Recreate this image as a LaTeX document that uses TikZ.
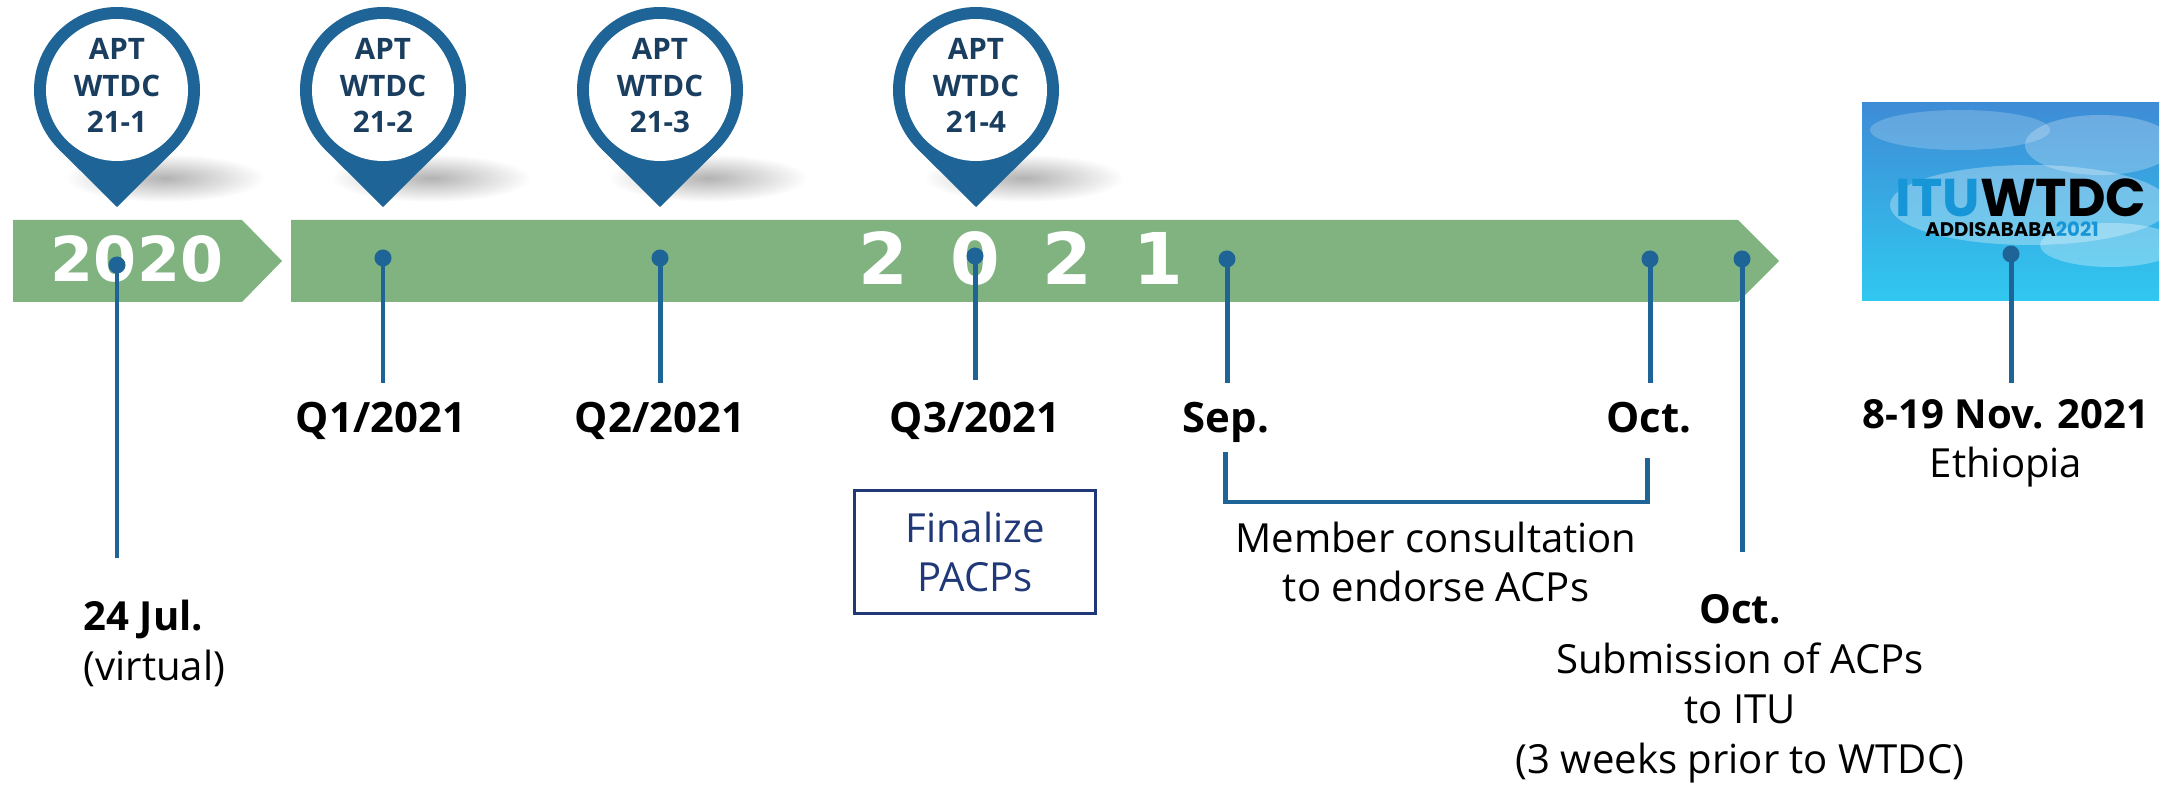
\documentclass[tikz,border=0pt]{standalone}
\usepackage{fontspec}
\setmainfont{Open Sans}
\newfontfamily\yearfont{DejaVu Sans}
\newfontfamily\logofont{Poppins}
\definecolor{pinblue}{RGB}{31,100,150}
\definecolor{pinnavy}{RGB}{26,62,96}
\definecolor{bandgreen}{RGB}{128,179,128}
\definecolor{boxnavy}{RGB}{32,56,120}
\definecolor{itublue}{RGB}{22,150,215}
\definecolor{skytop}{RGB}{62,140,214}
\definecolor{skybot}{RGB}{48,200,240}

\begin{document}
\begin{tikzpicture}[x=0.01cm,y=-0.01cm,
	band/.style={fill=bandgreen},
	dot/.style={circle,fill=pinblue,inner sep=0pt,minimum size=0.17cm},
	stem/.style={draw=pinblue,line width=1.42pt},
	yearlab/.style={font=\yearfont\fontsize{17.6}{20}\selectfont\bfseries,text=white,anchor=base,inner sep=0pt},
	datelab/.style={font=\fontsize{11.9}{14.2}\selectfont\bfseries,anchor=base,inner sep=0pt},
	note/.style={font=\fontsize{11.4}{14.2}\selectfont,align=center,anchor=base,inner sep=0pt},
	meetpin/.pic={
		\shade[inner color=black!30,outer color=white] (48,88) ellipse (100 and 24);
		\fill[pinblue] (0,0) circle (83);
		\fill[pinblue] (0,117) -- (-58.7,58.7) -- (58.7,58.7) -- cycle;
		\fill[white] (0,0) circle (71);
		\node[font=\fontsize{8.4}{10.5}\selectfont\bfseries,text=pinnavy,align=center,anchor=base,inner sep=0pt] (-txt) at (0,43) {APT\\WTDC\\#1};
	}]
	\useasboundingbox (0,0) rectangle (2171,788);

	% meeting pins
	\pic (p1) at (117,90) {meetpin=21-1};
	\pic (p2) at (383,90) {meetpin=21-2};
	\pic (p3) at (660,90) {meetpin=21-3};
	\pic (p4) at (976,90) {meetpin=21-4};

	% year bands
	\fill[band] (13,220) -- (242,220) -- (282,261) -- (242,302) -- (13,302) -- cycle;
	\fill[band] (291,220) -- (1738,220) -- (1779,261) -- (1738,302) -- (291,302) -- cycle;
	\node[yearlab] (y2020) at (137,282) {2020};
	\node[yearlab,font=\yearfont\fontsize{20.3}{22}\selectfont\bfseries] (y2021) at (1021,285) {2\hspace{0.42cm}0\hspace{0.42cm}2\hspace{0.42cm}1};

	% WTDC picture
	\begin{scope}
		\clip (1862,103) rectangle (2159,301);
		\shade[top color=skytop,bottom color=skybot] (1862,103) rectangle (2159,301);
		\fill[white,opacity=.2] (1960,130) ellipse (90 and 20);
		\fill[white,opacity=.25] (2100,145) ellipse (75 and 30);
		\fill[white,opacity=.3] (2030,205) ellipse (140 and 40);
		\fill[white,opacity=.3] (2110,245) ellipse (70 and 22);
	\end{scope}
	\node[font=\logofont\fontsize{15.1}{16}\selectfont\bfseries,anchor=base,inner sep=0pt] (itu) at (2021,217) {\textcolor{itublue}{ITU}WTDC};
	\node[font=\logofont\fontsize{5.6}{6}\selectfont\bfseries,anchor=base,inner sep=0pt] (addis) at (2012,237) {ADDISABABA\textcolor{itublue}{2021}};

	% dots and stems
	\node[dot] (d1) at (117,265) {};
	\node[dot] (d2) at (383,258) {};
	\node[dot] (d3) at (660,258) {};
	\node[dot] (d4) at (975,256) {};
	\node[dot] (d5) at (1227,259) {};
	\node[dot] (d6) at (1650,259) {};
	\node[dot] (d7) at (1742,259) {};
	\node[dot] (d8) at (2011,254) {};
	\coordinate (e1) at (117,558);
	\coordinate (e2) at (383,383);
	\coordinate (e3) at (660,383);
	\coordinate (e4) at (975,380);
	\coordinate (e5) at (1227,383);
	\coordinate (e6) at (1650,383);
	\coordinate (e7) at (1742,552);
	\coordinate (e8) at (2011,383);
	\draw[stem] (d1.center) -- (e1);
	\draw[stem] (d2.center) -- (e2);
	\draw[stem] (d3.center) -- (e3);
	\draw[stem] (d4.center) -- (e4);
	\draw[stem] (d5.center) -- (e5);
	\draw[stem] (d6.center) -- (e6);
	\draw[stem] (d7.center) -- (e7);
	\draw[stem] (d8.center) -- (e8);

	% labels
	\node[datelab] (q1) at (381,433) {Q1/2021};
	\node[datelab] (q2) at (660,433) {Q2/2021};
	\node[datelab] (q3) at (975,433) {Q3/2021};
	\node[datelab] (sep) at (1226,433) {Sep.};
	\node[datelab] (oct) at (1649,433) {Oct.};
	\node[note,anchor=base west,align=left] (jul) at (83,680) {\textbf{24 Jul.}\\(virtual)};
	\node[note] (nov) at (2006,478) {\textbf{8-19 Nov. 2021}\\Ethiopia};
	\node[note] (cons) at (1436,602) {Member consultation\\to endorse ACPs};
	\node[note] (sub) at (1740,773) {\textbf{Oct.}\\Submission of ACPs\\to ITU\\(3 weeks prior to WTDC)};
	\node[draw=boxnavy,line width=0.75pt,text=boxnavy,font=\fontsize{11.4}{14.2}\selectfont,align=center,minimum width=2.41cm,minimum height=1.23cm] (fin) at (975,552) {Finalize\\PACPs};

	% consultation bracket
	\coordinate (b1) at (1225,452);
	\coordinate (b2) at (1647,458);
	\draw[stem] (b1) -- ++(0,50) -| (b2);
\end{tikzpicture}
\end{document}
